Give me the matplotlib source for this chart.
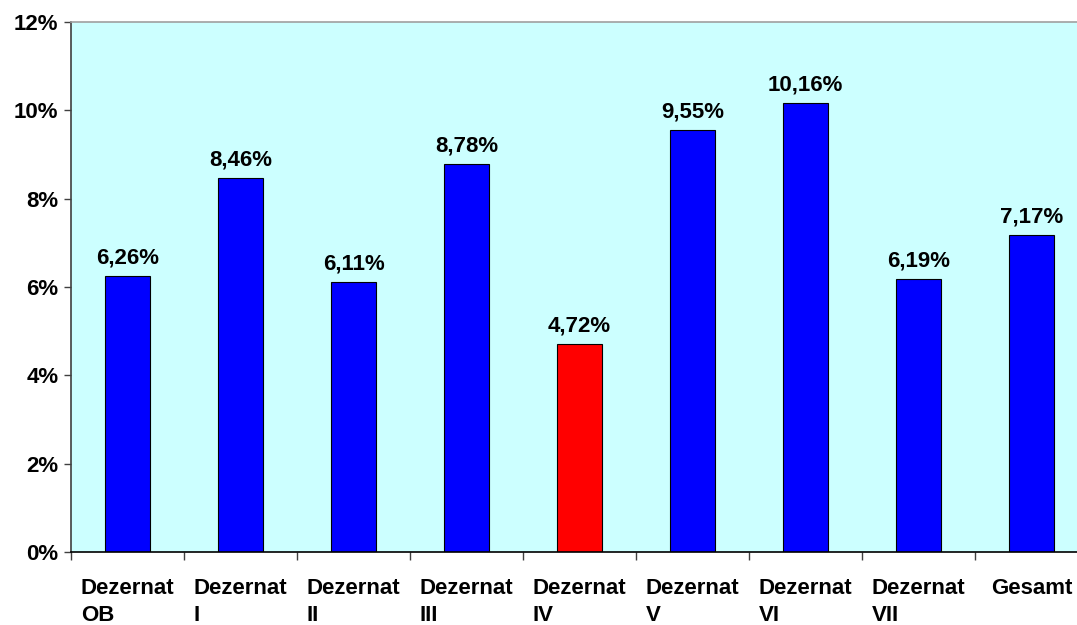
import matplotlib
matplotlib.use("Agg")
import matplotlib.pyplot as plt
import numpy as np

categories = ["Dezernat\nOB", "Dezernat\nI", "Dezernat\nII", "Dezernat\nIII", "Dezernat\nIV",
              "Dezernat\nV", "Dezernat\nVI", "Dezernat\nVII", "Gesamt"]
values = [6.26, 8.46, 6.11, 8.78, 4.72, 9.55, 10.16, 6.19, 7.17]
value_labels = ["6,26%", "8,46%", "6,11%", "8,78%", "4,72%", "9,55%", "10,16%", "6,19%", "7,17%"]
bar_colors = ["#0000FF", "#0000FF", "#0000FF", "#0000FF", "#FF0000",
              "#0000FF", "#0000FF", "#0000FF", "#0000FF"]
yticks = [0, 2, 4, 6, 8, 10, 12]
ytick_labels = ["0%", "2%", "4%", "6%", "8%", "10%", "12%"]

plt.rcParams['font.family'] = ['Liberation Sans', 'DejaVu Sans']
plt.rcParams['font.weight'] = 'bold'

fig = plt.figure(figsize=(10.77, 6.25), dpi=100)
ax = fig.add_axes([71/1077, 73/625, 1017/1077, 530/625])
ax.set_facecolor("#CCFFFF")

x = np.arange(len(categories))
ax.bar(x, values, width=0.4, color=bar_colors, edgecolor="black", linewidth=0.8, zorder=2)

for xi, v, lab in zip(x, values, value_labels):
    ax.annotate(lab, (xi, v), xytext=(0, 9), textcoords="offset points",
                ha="center", va="baseline", fontsize=16, fontweight="bold", color="black")

ax.set_xlim(-0.5, len(categories) - 0.5)
ax.set_ylim(0, 12)
ax.set_yticks(yticks)
ax.set_yticklabels(ytick_labels, fontsize=16, fontweight="bold")
ax.tick_params(axis="y", direction="out", length=5, width=1, pad=4, color="#404040")

ax.set_xticks(x)
ax.set_xticklabels(categories, fontsize=16, fontweight="bold", linespacing=1.35)
for lbl in ax.get_xticklabels():
    lbl.set_multialignment("left")
ax.tick_params(axis="x", which="major", length=0, pad=19)
ax.set_xticks(np.arange(-0.5, len(categories), 1.0), minor=True)
ax.tick_params(axis="x", which="minor", direction="out", length=6, width=1, color="#404040")

ax.spines["top"].set_color("#A0A0A0")
ax.spines["right"].set_color("#A0A0A0")
ax.spines["left"].set_color("#404040")
ax.spines["bottom"].set_color("black")
for s in ax.spines.values():
    s.set_linewidth(1.2)

fig.savefig("out.png", dpi=100)
